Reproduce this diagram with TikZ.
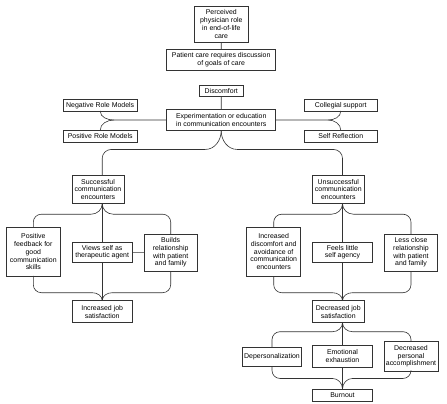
\documentclass[tikz,border=0pt]{standalone}
\usepackage{fontspec}
\setmainfont{Liberation Sans}
\begin{document}
\begin{tikzpicture}[x=1pt, y=1pt, yscale=-1, font=\fontsize{6.95}{7.8}\selectfont,
	box/.style 2 args={draw=black!80, line width=0.6pt, align=center, inner sep=0pt, outer sep=0pt, minimum width=#1pt, minimum height=#2pt},
	link/.style={draw=black!80, line width=0.6pt}]
	\useasboundingbox (0, 0) rectangle (447, 404);
	
	% top
	\node[box={54}{36.3}] (perc) at (221.3, 24.2) {Perceived\\physician role\\in end-of-life\\care};
	\node[box={109}{21}] (goals) at (221.2, 59.8) {Patient care requires discussion\\of goals of care};
	\node[box={44}{10.7}] (discomf) at (221.3, 91) {Discomfort};
	\node[box={109}{21.3}] (exper) at (221.2, 120) {Experimentation or education\\in communication encounters};
	\node[box={73.7}{11.3}] (negrole) at (100.2, 105.3) {Negative Role Models};
	\node[box={73.7}{11.7}] (posrole) at (100.2, 136.2) {Positive Role Models};
	\node[box={73.7}{11.3}] (colleg) at (340.8, 105.3) {Collegial support};
	\node[box={73.7}{11.7}] (selfrefl) at (340.8, 136.2) {Self Reflection};
	\coordinate (lj) at (114, 120);
	\coordinate (rj) at (328, 120);
	\draw[link] (perc) -- (goals);
	\draw[link] (discomf) -- (exper);
	\draw[link] (exper.west) -- (lj) to[out=180, in=90] (negrole.south);
	\draw[link] (lj) to[out=180, in=-90] (posrole.north);
	\draw[link] (exper.east) -- (rj) to[out=0, in=90] (colleg.south);
	\draw[link] (rj) to[out=0, in=-90] (selfrefl.north);
	
	% successful side
	\node[box={52}{28.4}] (success) at (98, 189.5) {Successful\\communication\\encounters};
	\node[box={53.3}{48.3}] (posfeed) at (33.3, 251.8) {Positive\\feedback for\\good\\communication\\skills};
	\node[box={60.3}{20}] (views) at (102.2, 252.2) {Views self as\\therapeutic agent};
	\node[box={53.3}{37}] (builds) at (170.7, 252.5) {Builds\\relationship\\with patient\\and family};
	\node[box={60.3}{22}] (incjob) at (102.2, 311.7) {Increased job\\satisfaction};
	
	% unsuccessful side
	\node[box={52}{28.4}] (unsucc) at (338.3, 189.5) {Unsuccessful\\communication\\encounters};
	\node[box={54}{48.7}] (incdisc) at (273.7, 251.7) {Increased\\discomfort and\\avoidance of\\communication\\encounters};
	\node[box={60.3}{20}] (feels) at (342.5, 252.2) {Feels little\\self agency};
	\node[box={53.3}{37}] (lessclose) at (411, 252.5) {Less close\\relationship\\with patient\\and family};
	\node[box={52}{22}] (decjob) at (338.3, 311.7) {Decreased job\\satisfaction};
	\node[box={59.4}{18.7}] (depers) at (272, 356.7) {Depersonalization};
	\node[box={60.3}{22.3}] (emot) at (342.5, 356.2) {Emotional\\exhaustion};
	\node[box={54}{29.3}] (decpers) at (411, 356.3) {Decreased\\personal\\accomplishment};
	\node[box={60.3}{12.7}] (burnout) at (342.5, 395.3) {Burnout};
	
	% fork below experimentation
	\draw[link] (exper.south) to[out=90, in=0] ++(-16, 18.8) [rounded corners=9pt] -| (views.north |- success.north);
	\draw[link] (exper.south) to[out=90, in=180] ++(16, 18.8) [rounded corners=9pt] -| (feels.north |- unsucc.north);
	
	% braces, successful
	\draw[link] (views.north |- success.south) coordinate (sfork) -- (views.north);
	\draw[link] (sfork) to[out=90, in=0] ++(-11, 10.5) [rounded corners=8pt] -| (posfeed.north);
	\draw[link] (sfork) to[out=90, in=180] ++(11, 10.5) [rounded corners=8pt] -| (builds.north);
	\draw[link] (views) -- (builds);
	\draw[link] (views) -- (incjob);
	\draw[link] (incjob.north) to[out=-90, in=0] ++(-10, -8) [rounded corners=8pt] -| (posfeed.south);
	\draw[link] (incjob.north) to[out=-90, in=180] ++(10, -8) [rounded corners=8pt] -| (builds.south);
	
	% braces, unsuccessful
	\draw[link] (feels.north |- unsucc.south) coordinate (ufork) -- (feels.north);
	\draw[link] (ufork) to[out=90, in=0] ++(-11, 10.5) [rounded corners=8pt] -| (incdisc.north);
	\draw[link] (ufork) to[out=90, in=180] ++(11, 10.5) [rounded corners=8pt] -| (lessclose.north);
	\draw[link] (feels) -- (feels.south |- decjob.north) coordinate (umerge);
	\draw[link] (umerge) to[out=-90, in=0] ++(-10, -8) [rounded corners=8pt] -| (incdisc.south);
	\draw[link] (umerge) to[out=-90, in=180] ++(10, -8) [rounded corners=8pt] -| (lessclose.south);
	
	% braces, burnout
	\draw[link] (emot.north |- decjob.south) coordinate (dfork) -- (emot.north);
	\draw[link] (dfork) to[out=90, in=0] ++(-10, 9) [rounded corners=8pt] -| (depers.north);
	\draw[link] (dfork) to[out=90, in=180] ++(10, 9) [rounded corners=8pt] -| (decpers.north);
	\draw[link] (emot) -- (burnout);
	\draw[link] (burnout.north) to[out=-90, in=0] ++(-10, -10.5) [rounded corners=8pt] -| (depers.south);
	\draw[link] (burnout.north) to[out=-90, in=180] ++(10, -10.5) [rounded corners=8pt] -| (decpers.south);
\end{tikzpicture}
\end{document}
